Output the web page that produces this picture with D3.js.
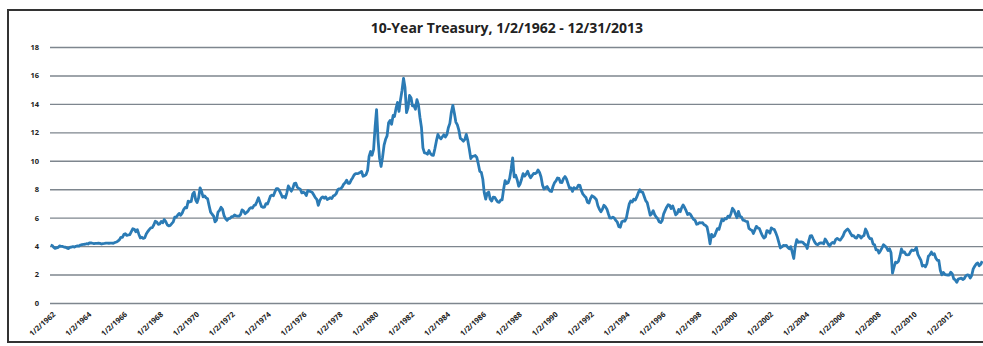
<!DOCTYPE html>
<html>
<head>
<meta charset="utf-8">
<script src="https://cdn.jsdelivr.net/npm/d3@7"></script>
<style>
  body { margin: 0; background: #fff; }
  svg { display: block; font-family: 'Open Sans', 'Liberation Sans', sans-serif; }
  .tick-y, .tick-x { font-weight: bold; fill: #222; }
</style>
</head>
<body>
<script>
const WIDTH = 983;
const HEIGHT = 346;

const chartTitle = '10-Year Treasury, 1/2/1962 - 12/31/2013';

// monthly yield readings, one row per year, Jan..Dec
const firstYear = 1962;
const yieldRows = [
  [4.08, 4.04, 3.93, 3.84, 3.87, 3.91, 4.01, 3.98, 3.98, 3.93, 3.92, 3.86],
  [3.83, 3.92, 3.93, 3.97, 3.93, 3.99, 4.02, 4.00, 4.08, 4.11, 4.12, 4.13],
  [4.17, 4.15, 4.22, 4.23, 4.20, 4.17, 4.19, 4.19, 4.20, 4.19, 4.15, 4.18],
  [4.19, 4.21, 4.21, 4.20, 4.21, 4.21, 4.20, 4.25, 4.29, 4.35, 4.45, 4.62],
  [4.61, 4.83, 4.87, 4.75, 4.78, 4.81, 5.02, 5.22, 5.18, 5.01, 5.16, 4.84],
  [4.58, 4.63, 4.54, 4.59, 4.85, 5.02, 5.16, 5.28, 5.30, 5.48, 5.75, 5.70],
  [5.53, 5.56, 5.74, 5.64, 5.87, 5.72, 5.50, 5.42, 5.46, 5.58, 5.70, 6.03],
  [6.04, 6.19, 6.30, 6.17, 6.32, 6.57, 6.72, 6.69, 7.16, 7.10, 7.14, 7.65],
  [7.79, 7.24, 7.07, 7.39, 8.10, 7.84, 7.46, 7.53, 7.39, 7.33, 6.84, 6.39],
  [6.24, 6.11, 5.70, 5.83, 6.39, 6.52, 6.73, 6.58, 6.14, 5.93, 5.81, 5.93],
  [5.95, 6.08, 6.07, 6.19, 6.13, 6.11, 6.11, 6.21, 6.55, 6.48, 6.28, 6.36],
  [6.46, 6.64, 6.71, 6.67, 6.85, 6.90, 7.13, 7.40, 7.09, 6.79, 6.73, 6.74],
  [6.99, 6.96, 7.21, 7.51, 7.58, 7.54, 7.81, 8.04, 8.04, 7.90, 7.68, 7.43],
  [7.50, 7.39, 7.73, 8.23, 8.06, 7.86, 8.06, 8.40, 8.43, 8.14, 8.05, 8.00],
  [7.74, 7.79, 7.73, 7.56, 7.90, 7.86, 7.83, 7.77, 7.59, 7.41, 7.29, 6.87],
  [7.21, 7.39, 7.46, 7.37, 7.46, 7.28, 7.33, 7.40, 7.34, 7.52, 7.58, 7.69],
  [7.96, 8.03, 8.04, 8.15, 8.35, 8.46, 8.64, 8.41, 8.42, 8.64, 8.81, 9.01],
  [9.10, 9.10, 9.12, 9.18, 9.25, 8.91, 8.95, 9.03, 9.33, 10.30, 10.65, 10.39],
  [10.80, 12.41, 13.60, 11.47, 10.18, 9.60, 10.25, 11.10, 11.51, 11.75, 12.68, 12.84],
  [12.57, 13.19, 13.12, 13.68, 14.10, 13.47, 14.28, 14.94, 15.80, 15.15, 13.39, 13.72],
  [14.59, 14.43, 13.86, 13.87, 13.62, 14.30, 13.95, 13.06, 12.34, 10.91, 10.55, 10.54],
  [10.46, 10.72, 10.51, 10.40, 10.38, 10.85, 11.38, 11.85, 11.65, 11.54, 11.69, 11.83],
  [11.67, 11.84, 12.32, 12.63, 13.41, 13.90, 13.36, 12.72, 12.52, 12.16, 11.57, 11.50],
  [11.38, 11.51, 11.86, 11.43, 10.85, 10.16, 10.31, 10.33, 10.37, 10.24, 9.78, 9.26],
  [9.19, 8.70, 7.78, 7.30, 7.71, 7.80, 7.30, 7.17, 7.45, 7.43, 7.25, 7.11],
  [7.08, 7.25, 7.25, 8.02, 8.61, 8.40, 8.45, 8.76, 9.42, 10.20, 8.86, 8.99],
  [8.67, 8.21, 8.37, 8.72, 9.09, 8.92, 9.06, 9.26, 8.98, 8.80, 8.96, 9.11],
  [9.09, 9.17, 9.36, 9.18, 8.86, 8.28, 8.02, 8.11, 8.19, 8.01, 7.87, 7.84],
  [8.21, 8.47, 8.59, 8.79, 8.76, 8.48, 8.47, 8.75, 8.89, 8.72, 8.39, 8.08],
  [8.09, 7.85, 8.11, 8.04, 8.07, 8.28, 8.27, 7.90, 7.65, 7.53, 7.42, 7.09],
  [7.03, 7.34, 7.54, 7.48, 7.39, 7.26, 6.84, 6.59, 6.42, 6.59, 6.87, 6.77],
  [6.60, 6.26, 5.98, 5.97, 6.04, 5.96, 5.81, 5.68, 5.36, 5.33, 5.72, 5.77],
  [5.75, 5.97, 6.48, 6.97, 7.18, 7.10, 7.30, 7.24, 7.46, 7.74, 7.96, 7.81],
  [7.78, 7.47, 7.20, 7.06, 6.63, 6.17, 6.28, 6.49, 6.20, 6.04, 5.93, 5.71],
  [5.65, 5.81, 6.27, 6.51, 6.74, 6.91, 6.87, 6.64, 6.83, 6.53, 6.20, 6.30],
  [6.58, 6.42, 6.69, 6.89, 6.71, 6.49, 6.22, 6.30, 6.21, 6.03, 5.88, 5.81],
  [5.54, 5.57, 5.65, 5.64, 5.65, 5.50, 5.46, 5.34, 4.81, 4.16, 4.83, 4.65],
  [4.72, 5.00, 5.23, 5.18, 5.54, 5.90, 5.79, 5.94, 5.92, 6.11, 6.03, 6.28],
  [6.66, 6.52, 6.26, 5.99, 6.44, 6.10, 6.05, 5.83, 5.80, 5.74, 5.72, 5.24],
  [5.16, 5.10, 4.89, 5.14, 5.39, 5.28, 5.24, 4.97, 4.73, 4.57, 4.65, 5.09],
  [5.04, 4.91, 5.28, 5.21, 5.16, 4.93, 4.65, 4.26, 3.87, 3.94, 4.05, 4.03],
  [4.05, 3.90, 3.81, 3.96, 3.57, 3.13, 3.98, 4.45, 4.27, 4.29, 4.30, 4.27],
  [4.15, 4.08, 3.83, 4.35, 4.72, 4.73, 4.50, 4.28, 4.13, 4.10, 4.19, 4.23],
  [4.22, 4.17, 4.50, 4.34, 4.14, 4.00, 4.18, 4.26, 4.20, 4.46, 4.54, 4.47],
  [4.42, 4.57, 4.72, 4.99, 5.11, 5.20, 5.09, 4.88, 4.72, 4.73, 4.60, 4.56],
  [4.76, 4.72, 4.56, 4.69, 4.75, 5.20, 5.00, 4.67, 4.52, 4.53, 4.15, 4.10],
  [3.74, 3.74, 3.51, 3.68, 3.88, 4.10, 4.01, 3.89, 3.69, 3.81, 3.53, 2.10],
  [2.52, 2.87, 2.82, 2.93, 3.29, 3.80, 3.56, 3.59, 3.40, 3.39, 3.40, 3.59],
  [3.73, 3.69, 3.73, 3.90, 3.42, 3.20, 3.01, 2.60, 2.65, 2.54, 2.76, 3.29],
  [3.39, 3.58, 3.41, 3.46, 3.17, 3.00, 3.00, 2.30, 1.98, 2.15, 2.01, 1.98],
  [1.97, 1.97, 2.17, 2.05, 1.70, 1.62, 1.45, 1.68, 1.72, 1.75, 1.65, 1.72],
  [1.91, 1.98, 1.96, 1.76, 1.93, 2.40, 2.58, 2.74, 2.81, 2.62, 2.72, 2.95],
];

const yTicks = [0, 2, 4, 6, 8, 10, 12, 14, 16, 18];
const xTickLabels = [
  '1/2/1962', '1/2/1964', '1/2/1966', '1/2/1968', '1/2/1970', '1/2/1972',
  '1/2/1974', '1/2/1976', '1/2/1978', '1/2/1980', '1/2/1982', '1/2/1984',
  '1/2/1986', '1/2/1988', '1/2/1990', '1/2/1992', '1/2/1994', '1/2/1996',
  '1/2/1998', '1/2/2000', '1/2/2002', '1/2/2004', '1/2/2006', '1/2/2008',
  '1/2/2010', '1/2/2012'
];

const plot = { left: 50, right: 983, top: 47, bottom: 303 };

const series = [];
yieldRows.forEach((row, yi) => {
  row.forEach((v, m) => {
    series.push({ date: new Date(firstYear + yi, m, 15), value: v });
  });
});

const parseDate = d3.timeParse('%-m/%-d/%Y');

const xScale = d3.scaleTime()
  .domain([new Date(1962, 0, 2), new Date(2013, 11, 31)])
  .range([plot.left, plot.right]);

const yScale = d3.scaleLinear()
  .domain([0, 18])
  .range([plot.bottom, plot.top]);

const svg = d3.select('body')
  .append('svg')
  .attr('width', WIDTH)
  .attr('height', HEIGHT);

// frame
svg.append('rect')
  .attr('x', 8)
  .attr('y', 10)
  .attr('width', 990)
  .attr('height', 332)
  .attr('fill', '#fff')
  .attr('stroke', '#333')
  .attr('stroke-width', 2);

svg.append('text')
  .attr('x', 507)
  .attr('y', 33)
  .attr('text-anchor', 'middle')
  .style('font-size', '14px')
  .style('font-weight', 'bold')
  .style('fill', '#222')
  .text(chartTitle);

// gridlines + y labels
const yAxis = d3.axisLeft(yScale)
  .tickValues(yTicks)
  .tickSize(-(plot.right - plot.left))
  .tickPadding(11);

svg.append('g')
  .attr('transform', 'translate(' + plot.left + ',0)')
  .call(yAxis)
  .call(g => g.select('.domain').remove())
  .call(g => g.selectAll('.tick line').attr('stroke', '#7e868e').attr('stroke-width', 1.4))
  .call(g => g.selectAll('.tick text')
    .attr('class', 'tick-y')
    .style('font-size', '7.5px')
    .style('font-family', "'Open Sans', sans-serif"));

// x labels
const xAxis = d3.axisBottom(xScale)
  .tickValues(xTickLabels.map(parseDate))
  .tickFormat(d3.timeFormat('%-m/%-d/%Y'))
  .tickSize(0);

svg.append('g')
  .attr('transform', 'translate(0,' + (plot.bottom + 6) + ')')
  .call(xAxis)
  .call(g => g.select('.domain').remove())
  .call(g => g.selectAll('.tick text')
    .attr('class', 'tick-x')
    .attr('text-anchor', 'end')
    .attr('dx', 0)
    .attr('dy', '0.7em')
    .attr('transform', 'rotate(-42)')
    .style('font-size', '7.5px')
    .style('font-family', "'Open Sans', sans-serif"));

const line = d3.line()
  .x(d => xScale(d.date))
  .y(d => yScale(d.value));

svg.append('path')
  .datum(series)
  .attr('fill', 'none')
  .attr('stroke', '#2b7bb5')
  .attr('stroke-width', 2.8)
  .attr('stroke-linejoin', 'round')
  .attr('d', line);
</script>
</body>
</html>
